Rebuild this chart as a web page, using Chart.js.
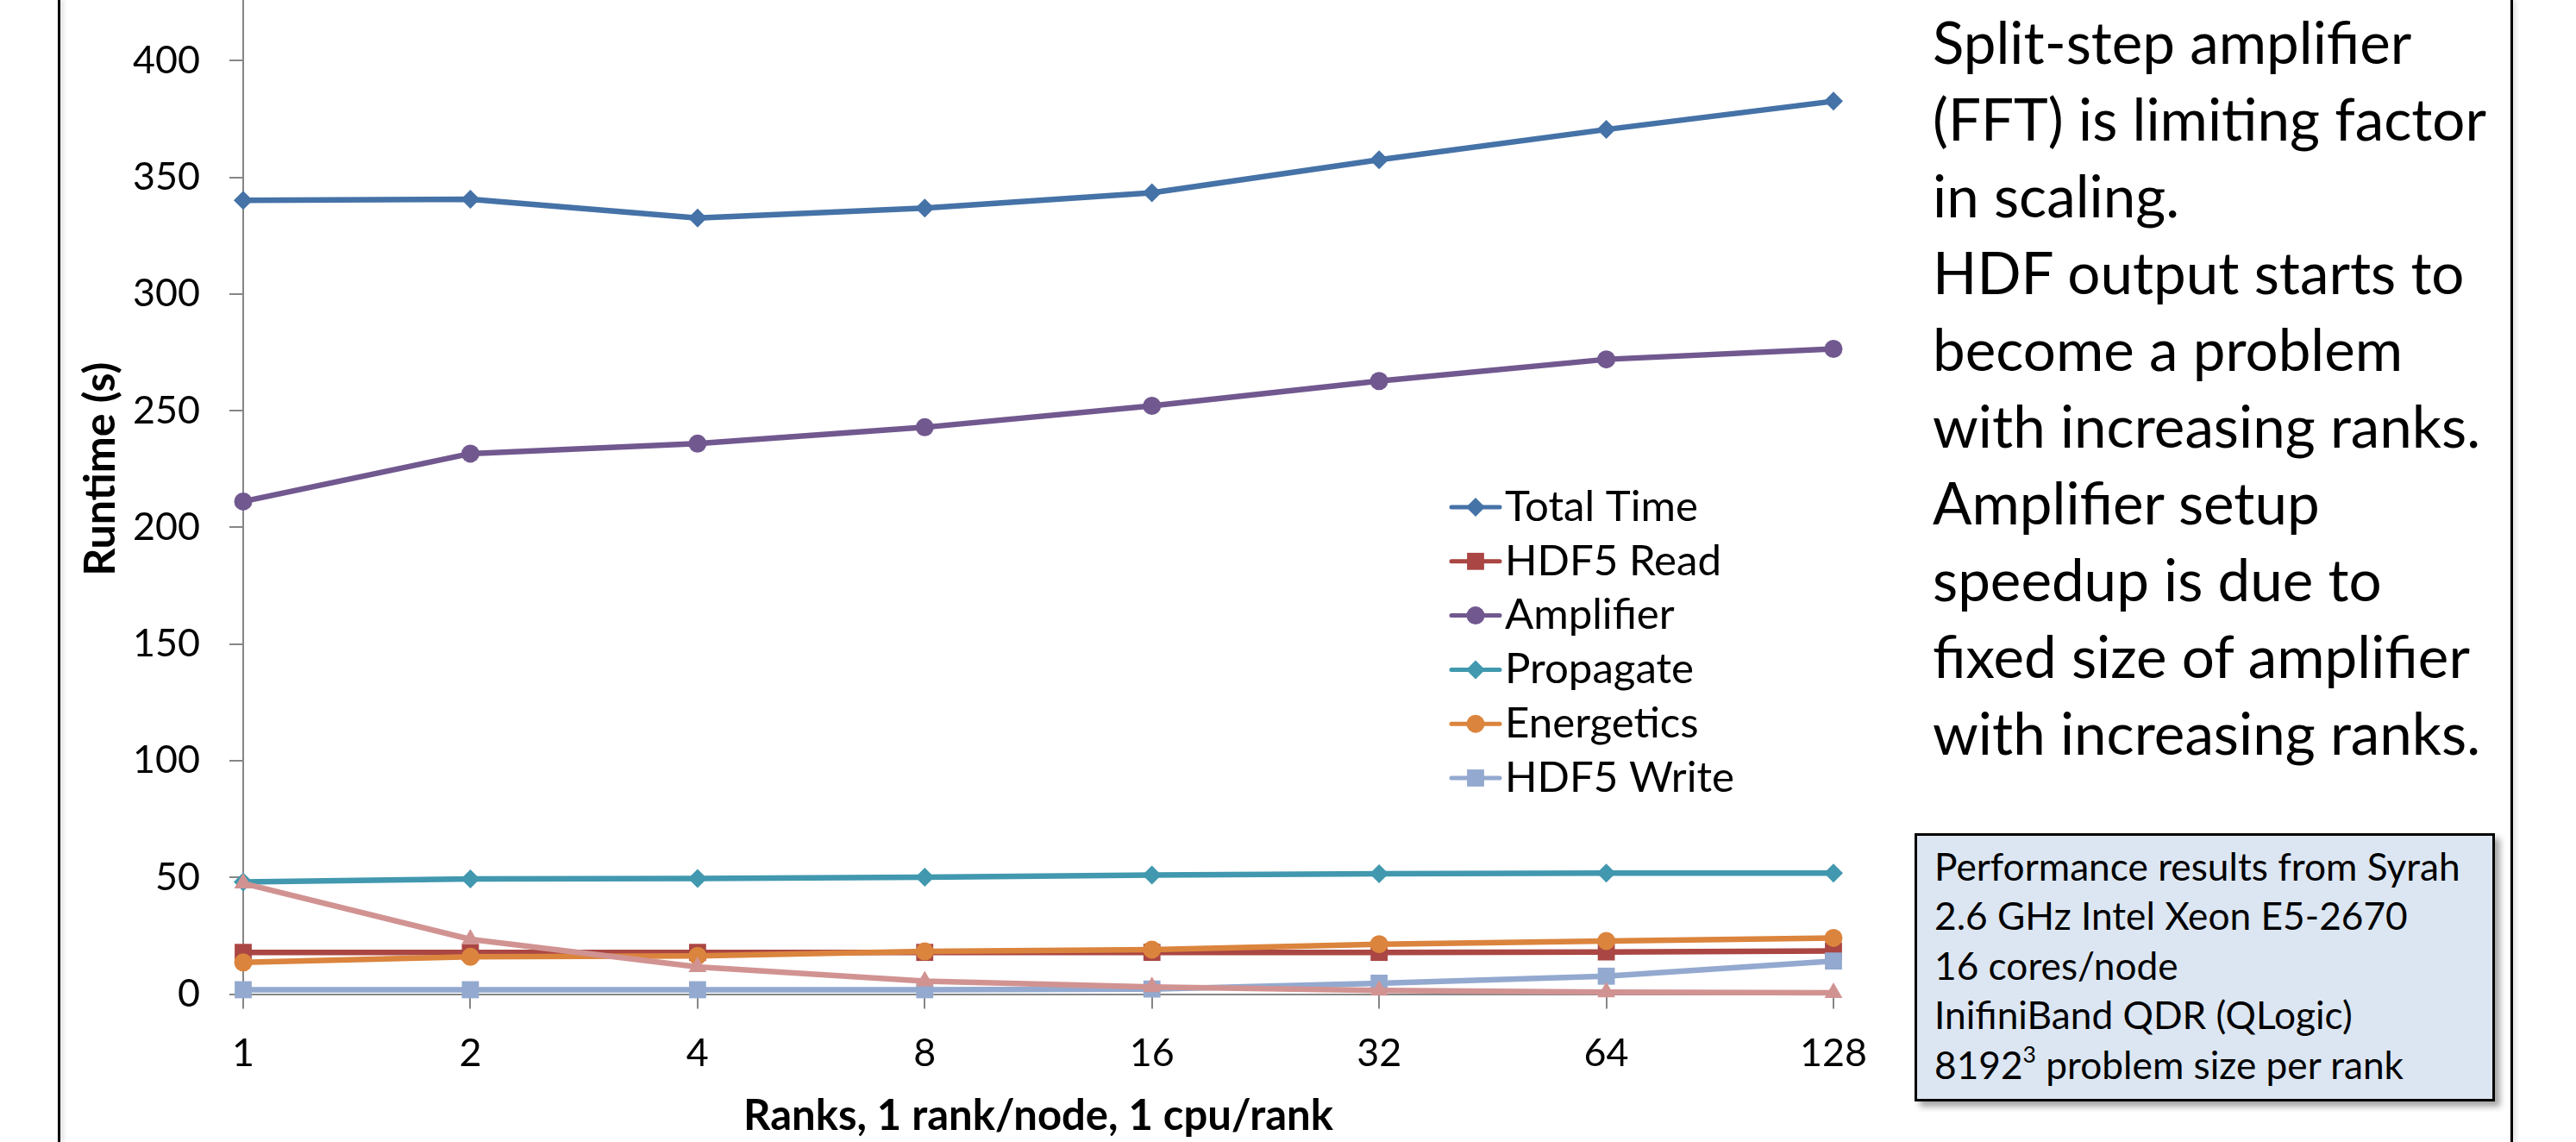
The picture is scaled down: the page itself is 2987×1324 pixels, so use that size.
<!DOCTYPE html>
<html>
<head>
<meta charset="utf-8">
<title>Runtime vs ranks</title>
<script src="https://cdn.jsdelivr.net/npm/chart.js@4.4.1/dist/chart.umd.min.js"></script>
<style>
  html, body { margin: 0; padding: 0; background: #fff; width: 2987px; height: 1324px; overflow: hidden; }
  #wrap { position: absolute; left: 0; top: -100px; width: 2200px; height: 1424px; }
  .frame { position: absolute; top: 0; width: 3px; height: 1324px; background: #000; box-shadow: 3px 0 5px rgba(0,0,0,0.18); }
  #notes { position: absolute; left: 2241px; font-family: Lato; color: #000; white-space: nowrap; }
  #specs { position: absolute; left: 2220px; top: 966px; width: 673px; height: 311px; box-sizing: border-box;
           background: #dce6f2; border: 3px solid #000; box-shadow: 6px 6px 7px rgba(0,0,0,0.35);
           font-family: Lato; color: #000; white-space: nowrap; padding-left: 20px; }
  sup { font-size: 0.6em; line-height: 0; vertical-align: 0.7em; }
</style>
</head>
<body>
<div class="frame" style="left:67px"></div>
<div class="frame" style="left:2911px"></div>
<div id="wrap"><canvas id="runtimeChart" width="2200" height="1424"></canvas></div>
<div id="notes"></div>
<div id="specs"></div>

<script>
/**************** DATA ****************/
const ranks = ["1", "2", "4", "8", "16", "32", "64", "128"];

const totalTime      = [340.1, 340.6, 332.6, 336.8, 343.4, 357.5, 370.5, 382.6];
const hdf5Read       = [17.9, 17.9, 17.9, 17.9, 17.9, 17.9, 18.1, 18.5];
const amplifier      = [211.1, 231.6, 235.9, 242.9, 252.1, 262.7, 272.0, 276.5];
const propagate      = [48.1, 49.4, 49.6, 50.1, 51.0, 51.6, 51.9, 51.9];
const energetics     = [13.6, 16.0, 16.4, 18.3, 19.1, 21.4, 22.8, 24.1];
const hdf5Write      = [1.9, 1.9, 1.9, 1.9, 2.2, 4.7, 7.7, 14.2];
const amplifierSetup = [47.5, 23.5, 11.7, 5.6, 3.1, 1.6, 0.9, 0.6];

const yMin = 0;
const yMax = 450;
const yStep = 50;

const xTitle = "Ranks, 1 rank/node, 1 cpu/rank";
const yTitle = "Runtime (s)";

const notes = [
  "Split-step amplifier",
  "(FFT) is limiting factor",
  "in scaling.",
  "HDF output starts to",
  "become a problem",
  "with increasing ranks.",
  "Amplifier setup",
  "speedup is due to",
  "fixed size of amplifier",
  "with increasing ranks."
];

const specs = [
  "Performance results from Syrah",
  "2.6 GHz Intel Xeon E5-2670",
  "16 cores/node",
  "InifiniBand QDR (QLogic)",
  "8192<sup>3</sup> problem size per rank"
];

/**************** HELPERS ****************/
const mctx = document.createElement("canvas").getContext("2d");

// font size (px) that makes text come out at the wanted width
function fitSize(text, weight, target) {
  mctx.font = weight + " 100px Lato";
  return 100 * target / mctx.measureText(text).width;
}

// put each line in its own div so first baseline lands where wanted
function placeLines(el, lines, size, lineH, firstBaseline, topOffset) {
  mctx.font = size + "px Lato";
  const m = mctx.measureText("Hg");
  const asc = m.fontBoundingBoxAscent, desc = m.fontBoundingBoxDescent;
  const shift = (lineH - asc - desc) / 2 + asc;
  el.style.fontSize = size + "px";
  el.innerHTML = lines.map(l => `<div style="height:${lineH}px;line-height:${lineH}px">${l}</div>`).join("");
  return firstBaseline - shift - topOffset;
}

/**************** IN-PLOT LEGEND ****************/
const innerLegend = {
  id: "innerLegend",
  afterDatasetsDraw(chart, args, opts) {
    const ctx = chart.ctx;
    ctx.save();
    ctx.font = opts.fontSize + "px Lato";
    ctx.textBaseline = "middle";
    ctx.textAlign = "left";
    let row = 0;
    chart.data.datasets.forEach(ds => {
      if (ds.inLegend === false) return;
      const y = opts.y + row * opts.gap;
      row++;
      ctx.strokeStyle = ds.borderColor;
      ctx.lineWidth = opts.lineWidth;
      ctx.lineCap = "round";
      ctx.beginPath();
      ctx.moveTo(opts.x0, y);
      ctx.lineTo(opts.x1, y);
      ctx.stroke();
      ctx.fillStyle = ds.pointBackgroundColor;
      Chart.helpers.drawPoint(ctx, {
        pointStyle: ds.pointStyle, radius: ds.pointRadius, rotation: 0, borderWidth: 0
      }, (opts.x0 + opts.x1) / 2, y);
      ctx.fillStyle = "#000";
      ctx.fillText(ds.label, opts.textX, y);
    });
    ctx.restore();
  }
};

/**************** CHART ****************/
function makeSeries(label, data, color, marker, radius, order, inLegend) {
  return {
    label, data, order, inLegend,
    borderColor: color,
    backgroundColor: color,
    pointBackgroundColor: color,
    pointBorderColor: color,
    pointBorderWidth: 0,
    pointStyle: marker,
    pointRadius: radius,
    borderWidth: 6.5,
    borderJoinStyle: "round",
    borderCapStyle: "round",
    tension: 0,
    clip: false
  };
}

function draw() {
  const tickSize = fitSize("400", "normal", 78);
  const titleSize = fitSize(xTitle, "bold", 684);
  const yTitleSize = fitSize(yTitle, "bold", 248);
  const legendSize = fitSize("Total Time", "normal", 224);

  new Chart(document.getElementById("runtimeChart"), {
    type: "line",
    data: {
      labels: ranks,
      datasets: [
        makeSeries("Total Time", totalTime, "#4572A7", "rectRot", 11, 7, true),
        makeSeries("HDF5 Read", hdf5Read, "#AA4643", "rect", 14, 6, true),
        makeSeries("Amplifier", amplifier, "#71588F", "circle", 10.5, 5, true),
        makeSeries("Propagate", propagate, "#4198AF", "rectRot", 11, 4, true),
        makeSeries("Energetics", energetics, "#DB843D", "circle", 10.5, 3, true),
        makeSeries("HDF5 Write", hdf5Write, "#93A9CF", "rect", 14, 2, true),
        makeSeries("Amplifier Setup", amplifierSetup, "#D19392", "triangle", 12, 1, false)
      ]
    },
    options: {
      responsive: false,
      animation: false,
      devicePixelRatio: 1,
      layout: { padding: { top: 35, right: 74, left: 0, bottom: 0 } },
      plugins: {
        legend: { display: false },
        tooltip: { enabled: false },
        innerLegend: { x0: 1683, x1: 1739, textX: 1745, y: 688, gap: 62.8, lineWidth: 5, fontSize: legendSize }
      },
      scales: {
        x: {
          type: "category",
          offset: false,
          grid: { drawOnChartArea: false, drawTicks: true, tickLength: 17, color: "#868686", lineWidth: 2 },
          border: { color: "#868686", width: 2 },
          ticks: {
            color: "#000", font: { family: "Lato", size: tickSize },
            padding: 1222 - 1169.6 - tickSize * 0.6, maxRotation: 0, autoSkip: false
          },
          title: {
            display: true, text: xTitle, color: "#000",
            font: { family: "Lato", weight: "bold", size: titleSize },
            padding: { top: 0, bottom: 30 - titleSize * 0.6 }
          },
          afterFit: s => { s.height = 171.4; }
        },
        y: {
          min: yMin,
          max: yMax,
          grid: { drawOnChartArea: false, drawTicks: true, tickLength: 16, color: "#868686", lineWidth: 2 },
          border: { color: "#868686", width: 2 },
          ticks: { stepSize: yStep, color: "#000", font: { family: "Lato", size: tickSize }, padding: 34 },
          title: {
            display: true, text: yTitle, color: "#000",
            font: { family: "Lato", weight: "bold", size: yTitleSize },
            padding: { top: 117 - yTitleSize * 0.6, bottom: 0 }
          },
          afterFit: s => { s.width = 282; s.paddingTop = 0; s.paddingBottom = 0; }
        }
      }
    },
    plugins: [innerLegend]
  });

  /**************** SIDE TEXT ****************/
  const notesEl = document.getElementById("notes");
  const notesSize = fitSize(notes[1], "normal", 642);
  notesEl.style.top = placeLines(notesEl, notes, notesSize, 89, 74, 0) + "px";

  const specsEl = document.getElementById("specs");
  const specsSize = fitSize(specs[0], "normal", 610);
  specsEl.style.paddingTop = placeLines(specsEl, specs, specsSize, 57.5, 1021, 966 + 3) + "px";
}

Promise.all([
  document.fonts.load("16px Lato"),
  document.fonts.load("bold 16px Lato")
]).then(draw, draw);
</script>
</body>
</html>
